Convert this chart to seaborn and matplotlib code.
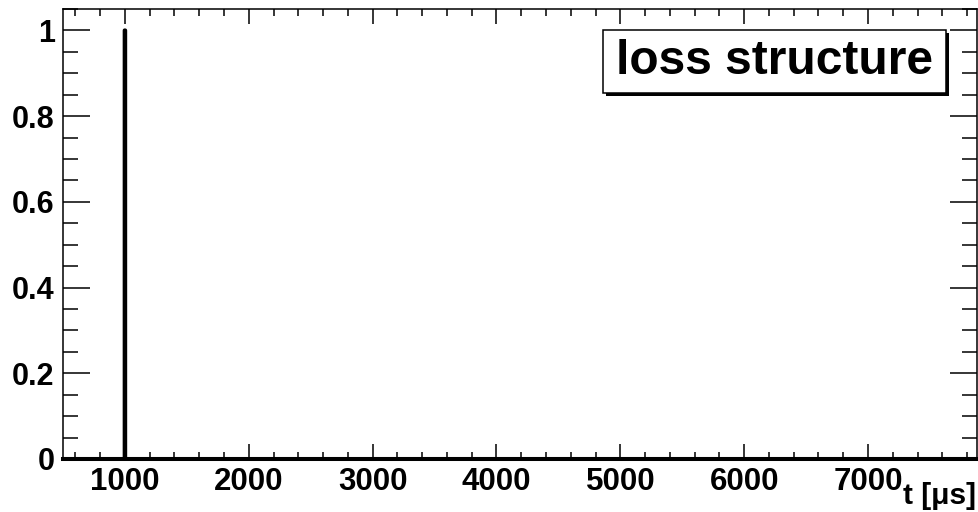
import matplotlib
matplotlib.use("Agg")

import matplotlib.pyplot as plt
import matplotlib.patches as mpatches
import matplotlib.patheffects as pe
from matplotlib.ticker import MultipleLocator, FormatStrFormatter
import seaborn as sns

# histogram content: one loss entry at t = 1000 us, empty elsewhere
loss_time = [1000]
loss_weight = [1.0]
t_range = (498, 7882)
bin_width = 4
x_limits = (500, 7880)
y_limits = (0, 1.05)

sns.set_theme(style="ticks")
plt.rcParams["font.family"] = ["Liberation Sans", "DejaVu Sans"]
plt.rcParams["font.weight"] = "bold"
plt.rcParams["text.color"] = "black"
plt.rcParams["axes.labelcolor"] = "black"

fig = plt.figure(figsize=(9.79, 5.12), dpi=100)
ax = fig.add_axes([63 / 979, 1 - 459 / 512, (977 - 63) / 979, (459 - 9) / 512])

sns.histplot(x=loss_time, weights=loss_weight, binwidth=bin_width, binrange=t_range,
             element="step", fill=False, color="black", linewidth=2.9, ax=ax)

ax.set_xlim(*x_limits)
ax.set_ylim(*y_limits)
ax.set_ylabel("")

# ROOT-like axes: ticks inside, on all four sides
ax.xaxis.set_major_locator(MultipleLocator(1000))
ax.xaxis.set_minor_locator(MultipleLocator(200))
ax.yaxis.set_major_locator(MultipleLocator(0.2))
ax.yaxis.set_minor_locator(MultipleLocator(0.05))
ax.yaxis.set_major_formatter(FormatStrFormatter("%g"))
ax.tick_params(axis="both", which="both", direction="in", top=True, right=True,
               colors="black", width=1.1)
ax.tick_params(axis="x", which="major", length=10.5, pad=5.5, labelsize=22.5)
ax.tick_params(axis="x", which="minor", length=5)
ax.tick_params(axis="y", which="major", length=19.5, pad=6, labelsize=22)
ax.tick_params(axis="y", which="minor", length=10.5)
for lab in ax.get_xticklabels() + ax.get_yticklabels():
    lab.set_fontweight("bold")
for side in ["left", "top", "right"]:
    ax.spines[side].set_linewidth(1.1)
    ax.spines[side].set_color("black")
ax.spines["bottom"].set_linewidth(2.9)
ax.spines["bottom"].set_color("black")

ax.set_xlabel("t [\u03bcs]", fontsize=21.5, fontweight="bold", ha="right", color="black")
ax.xaxis.set_label_coords(0.999, -0.052)

# title pave with shadow
box = mpatches.Rectangle((603 / 979, 1 - 93 / 512), (946 - 603) / 979, (93 - 30) / 512,
                         transform=fig.transFigure, facecolor="white", edgecolor="black",
                         linewidth=1.1, zorder=5)
box.set_path_effects([pe.SimplePatchShadow(offset=(2.5, -2.5), shadow_rgbFace="black", alpha=1.0),
                      pe.Normal()])
fig.patches.append(box)
fig.text(775 / 979, 1 - 62 / 512, "loss structure", fontsize=34.5, fontweight="bold",
         ha="center", va="center", color="black", zorder=6)

fig.savefig("out.png", dpi=100)
